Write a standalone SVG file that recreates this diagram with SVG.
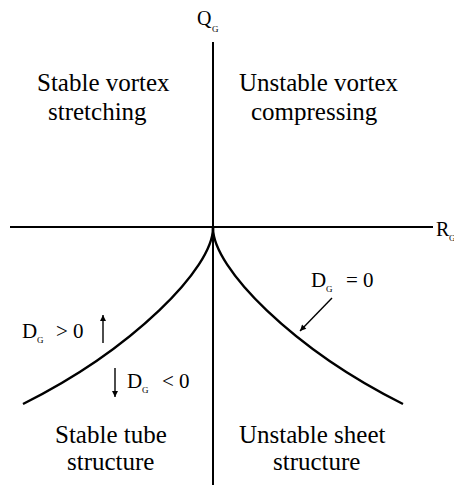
<svg xmlns="http://www.w3.org/2000/svg" width="454" height="485" viewBox="0 0 454 485">
<style>
.ax{stroke:#000;stroke-width:2;fill:none}
.cv{stroke:#000;stroke-width:2.4;fill:none}
.ar{stroke:#000;stroke-width:1.4;fill:none}
</style>
<defs>
<marker id="ah" viewBox="0 0 10 10" refX="10" refY="5" markerWidth="8" markerHeight="6" markerUnits="userSpaceOnUse" orient="auto">
<path d="M0,0 L10,5 L0,10 Z" fill="#000"/>
</marker>
</defs>
<rect width="454" height="485" fill="#fff"/>
<g id="connectors">
<line class="ax" x1="213" y1="42" x2="213" y2="485"/>
<line class="ax" x1="10" y1="227" x2="433" y2="227"/>
<path class="cv" d="M213,228 C213,268 133,349 23,404"/>
<path class="cv" d="M213,228 C213,268 293,349 403,404"/>
<line class="ar" x1="332" y1="298" x2="300" y2="331" marker-end="url(#ah)"/>
<line class="ar" x1="103" y1="343" x2="103" y2="315" marker-end="url(#ah)"/>
<line class="ar" x1="115" y1="368" x2="115" y2="397" marker-end="url(#ah)"/>
</g>
<g id="axis-q"><text x="197" y="25" font-family="Liberation Serif" font-size="20">Q</text><text x="212" y="32" font-family="Liberation Serif" font-size="9">G</text></g>
<g id="axis-r"><text x="436" y="236" font-family="Liberation Serif" font-size="20">R</text><text x="449" y="241" font-family="Liberation Serif" font-size="9">G</text></g>
<g id="q1"><text x="37" y="91" font-family="Liberation Serif" font-size="25">Stable vortex</text><text x="48" y="120" font-family="Liberation Serif" font-size="25">stretching</text></g>
<g id="q2"><text x="239" y="91" font-family="Liberation Serif" font-size="25">Unstable vortex</text><text x="251" y="120" font-family="Liberation Serif" font-size="25">compressing</text></g>
<g id="q3"><text x="55" y="443" font-family="Liberation Serif" font-size="25">Stable tube</text><text x="67" y="470" font-family="Liberation Serif" font-size="25">structure</text></g>
<g id="q4"><text x="239" y="443" font-family="Liberation Serif" font-size="25">Unstable sheet</text><text x="273" y="470" font-family="Liberation Serif" font-size="25">structure</text></g>
<g id="dg0"><text x="311" y="287" font-family="Liberation Serif" font-size="21">D</text><text x="326" y="292" font-family="Liberation Serif" font-size="9">G</text><text x="346" y="287" font-family="Liberation Serif" font-size="21">= 0</text></g>
<g id="dgpos"><text x="22" y="338" font-family="Liberation Serif" font-size="21">D</text><text x="37" y="343" font-family="Liberation Serif" font-size="9">G</text><text x="56" y="338" font-family="Liberation Serif" font-size="21">&gt; 0</text></g>
<g id="dgneg"><text x="127" y="388" font-family="Liberation Serif" font-size="21">D</text><text x="142" y="393" font-family="Liberation Serif" font-size="9">G</text><text x="162" y="388" font-family="Liberation Serif" font-size="21">&lt; 0</text></g>
</svg>
